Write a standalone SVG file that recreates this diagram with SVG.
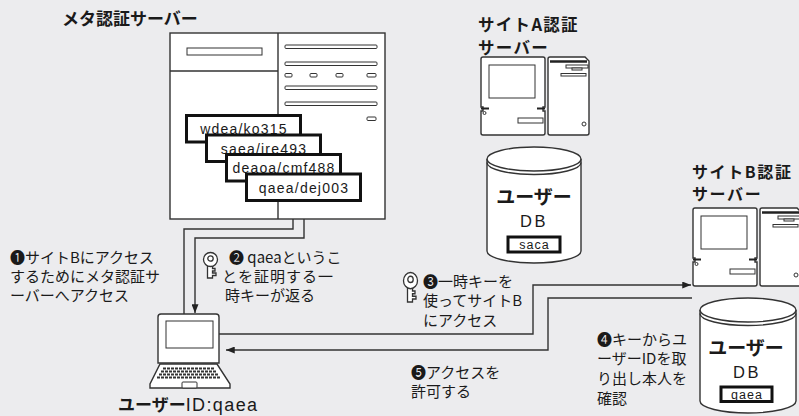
<svg xmlns="http://www.w3.org/2000/svg" xmlns:xlink="http://www.w3.org/1999/xlink" width="799" height="416" viewBox="0 0 799 416">
  <style>
    .jp { font-family: "Noto Sans CJK JP", "DejaVu Sans", sans-serif; fill: #1a1a1a; }
    .b { font-weight: bold; }
    .step { font-size: 15px; }
    .title { font-size: 17px; font-weight: bold; }
    .site { font-size: 16.5px; font-weight: bold; letter-spacing: 1.3px; }
    .siteb { font-size: 16px; font-weight: bold; letter-spacing: 1.6px; }
    .mono { font-family: "Liberation Sans", Arial, sans-serif; fill: #1a1a1a; }
    .line { fill: none; stroke: #333; stroke-width: 1.4; }
    .shape { fill: #fff; stroke: #333; stroke-width: 1.4; }
    .thin { fill: #fff; stroke: #333; stroke-width: 1; }
    .cred { fill: #fff; stroke: #111; stroke-width: 3; }
  </style>
  <defs>
    <marker id="ah" viewBox="0 0 10 8" refX="10" refY="4" markerWidth="9" markerHeight="7" orient="auto" markerUnits="userSpaceOnUse">
      <path d="M0,0 L10,4 L0,8 Z" fill="#222"/>
    </marker>
    <!-- outline key icon -->
    <g id="key" fill="#fff" stroke="#333" stroke-width="1.3">
      <path d="M4.5,13 V26 H9.5 V23.5 H13 V21 H9.5 V19 H12 V16.5 H9.5 V13 Z"/>
      <circle cx="7.5" cy="7.5" r="7"/>
      <circle cx="7.5" cy="6.5" r="2.7"/>
    </g>
    <!-- desktop computer: monitor unit and tower -->
    <g id="pc">
      <path class="shape" d="M481,59 Q481,57 483,57 H543 Q545,57 545,59 V107 H543 V111 H545 V133 Q545,135 543,135 H483 Q481,135 481,133 V111 H483 V107 H481 Z"/>
      <path d="M481,108.5 H489 M537,108.5 H545" stroke="#222" stroke-width="2.2"/>
      <rect class="thin" x="489" y="65" width="46" height="33"/>
      <rect class="thin" x="518" y="118" width="25" height="5"/>
      <circle class="thin" cx="484.5" cy="113" r="1.5"/>
      <path class="shape" d="M548,59 Q548,57 550,57 H585 L589,61 V133 Q589,135 587,135 H550 Q548,135 548,133 Z"/>
      <path d="M550,61.5 H587" stroke="#222" stroke-width="2.4"/>
      <rect class="thin" x="566" y="65" width="22" height="3"/>
      <rect class="thin" x="572" y="68" width="10" height="2"/>
      <rect class="thin" x="561" y="73.5" width="25" height="2.5"/>
      <circle class="thin" cx="584" cy="124" r="2"/>
    </g>
  </defs>

  <rect width="799" height="416" fill="#ececee"/>

  <!-- connectors -->
  <g id="connectors">
    <path class="line" d="M184,314 V229 H293 V204" marker-end="url(#ah)"/>
    <path class="line" d="M304,203 V238 H195 V313" marker-end="url(#ah)"/>
    <path class="line" d="M219,334 H533 V285 H691" marker-end="url(#ah)"/>
    <path class="line" d="M692,298 H548 V350 H226" marker-end="url(#ah)"/>
  </g>

  <!-- meta authentication server -->
  <g id="meta-server">
    <text class="jp title" x="62" y="25">メタ認証サーバー</text>
    <rect class="shape" x="170" y="33" width="215" height="186"/>
    <path class="line" d="M278,33 V219 M170,71 H278"/>
    <rect class="thin" x="187" y="48" width="75" height="7"/>
    <g class="thin">
      <rect x="285" y="45" width="92" height="3.5" rx="1"/>
      <rect x="285" y="62" width="92" height="3.5" rx="1"/>
      <rect x="285" y="73.5" width="7" height="3.5" rx="1"/>
      <rect x="310" y="73.5" width="7" height="3.5" rx="1"/>
      <rect x="336" y="73.5" width="7" height="3.5" rx="1"/>
      <rect x="367" y="73.5" width="9" height="3.5" rx="1"/>
      <rect x="285" y="86" width="92" height="3.5" rx="1"/>
      <rect x="285" y="102" width="92" height="3.5" rx="1"/>
      <rect x="367" y="117" width="9" height="3.5" rx="1"/>
    </g>
    <g font-size="14" letter-spacing="1.2" text-anchor="middle">
      <rect class="cred" x="186.5" y="115.5" width="114" height="26.5"/>
      <text class="mono" x="244" y="134">wdea/ko315</text>
      <rect class="cred" x="206.5" y="135" width="114" height="26.5"/>
      <text class="mono" x="264" y="153.5">saea/ire493</text>
      <rect class="cred" x="226.5" y="154.5" width="114" height="26.5"/>
      <text class="mono" x="284" y="173">deaoa/cmf488</text>
      <rect class="cred" x="246.5" y="174" width="114" height="26.5"/>
      <text class="mono" x="304" y="193">qaea/dej003</text>
    </g>
  </g>

  <!-- site A authentication server -->
  <g id="site-a-server">
    <text class="jp site" x="478" y="31">サイトA認証</text>
    <text class="jp site" x="478" y="54">サーバー</text>
    <use href="#pc" xlink:href="#pc"/>
  </g>

  <!-- site A user database -->
  <g id="site-a-db">
    <path class="shape" d="M487,159 V251 A47,12 0 0 0 581,251 V159"/>
    <ellipse class="shape" cx="534" cy="159" rx="47" ry="12"/>
    <path class="line" d="M487,162.5 A47,12 0 0 0 581,162.5"/>
    <text class="jp b" x="534" y="204" font-size="19" text-anchor="middle">ユーザー</text>
    <text class="mono" x="534" y="227" font-size="16.5" letter-spacing="2.5" text-anchor="middle">DB</text>
    <rect class="cred" x="508" y="237" width="52" height="15" stroke-width="2.5"/>
    <text class="mono" x="534.5" y="249" font-size="12.5" letter-spacing="1" text-anchor="middle">saca</text>
  </g>

  <!-- site B authentication server -->
  <g id="site-b-server">
    <text class="jp siteb" x="692" y="178">サイトB認証</text>
    <text class="jp siteb" x="692" y="200">サーバー</text>
    <use href="#pc" xlink:href="#pc" transform="translate(212,151)"/>
  </g>

  <!-- site B user database -->
  <g id="site-b-db">
    <path class="shape" d="M700,310 V401 A48,12 0 0 0 796,401 V310"/>
    <ellipse class="shape" cx="748" cy="310" rx="48" ry="12"/>
    <path class="line" d="M700,313.5 A48,12 0 0 0 796,313.5"/>
    <text class="jp b" x="746" y="355" font-size="19" text-anchor="middle">ユーザー</text>
    <text class="mono" x="747" y="378" font-size="16.5" letter-spacing="2.5" text-anchor="middle">DB</text>
    <rect class="cred" x="721" y="387" width="51" height="14.5" stroke-width="2.5"/>
    <text class="mono" x="747" y="398.5" font-size="12.5" letter-spacing="1" text-anchor="middle">qaea</text>
  </g>

  <!-- user laptop -->
  <g id="laptop">
    <path class="shape" d="M158,363 V317 Q158,314 161,314 H216 Q219,314 219,317 V363 Z"/>
    <rect class="thin" x="166" y="321" width="47" height="27"/>
    <path class="shape" d="M160,364 H217 L230,384 V388 H150 V384 Z"/>
    <g stroke="#333" stroke-width="2" stroke-dasharray="3 1">
      <path d="M163,368.5 H215"/>
      <path d="M161,371.5 H217"/>
      <path d="M159,374.5 H219"/>
      <path d="M157,377.5 H221"/>
    </g>
    <rect class="thin" x="182" y="382" width="15" height="6" rx="1"/>
    <text class="jp" x="118" y="411" font-size="17"><tspan font-weight="bold">ユーザー</tspan><tspan font-family="'Liberation Sans', Arial, sans-serif" font-size="18" letter-spacing="1.4">ID:qaea</tspan></text>
  </g>

  <!-- step labels -->
  <g id="step1">
    <text class="jp step" x="10" y="263">❶サイトBにアクセス</text>
    <text class="jp step" x="10" y="282">するためにメタ認証サ</text>
    <text class="jp step" x="10" y="301">ーバーへアクセス</text>
  </g>
  <g id="step2">
    <use href="#key" xlink:href="#key" x="203" y="252"/>
    <text class="jp step" x="229" y="263">❷ qaeaというこ</text>
    <text class="jp step" x="222" y="282" letter-spacing="1">とを証明する一</text>
    <text class="jp step" x="225" y="301">時キーが返る</text>
  </g>
  <g id="step3">
    <use href="#key" xlink:href="#key" transform="translate(403,272) scale(1,1.15)"/>
    <text class="jp step" x="423" y="287">❸一時キーを</text>
    <text class="jp step" x="423" y="306">使ってサイトB</text>
    <text class="jp step" x="423" y="326">にアクセス</text>
  </g>
  <g id="step4">
    <text class="jp step" x="597" y="345">❹キーからユ</text>
    <text class="jp step" x="597" y="364">ーザーIDを取</text>
    <text class="jp step" x="597" y="384">り出し本人を</text>
    <text class="jp step" x="597" y="404">確認</text>
  </g>
  <g id="step5">
    <text class="jp step" x="411" y="378">❺アクセスを</text>
    <text class="jp step" x="411" y="397">許可する</text>
  </g>
</svg>
